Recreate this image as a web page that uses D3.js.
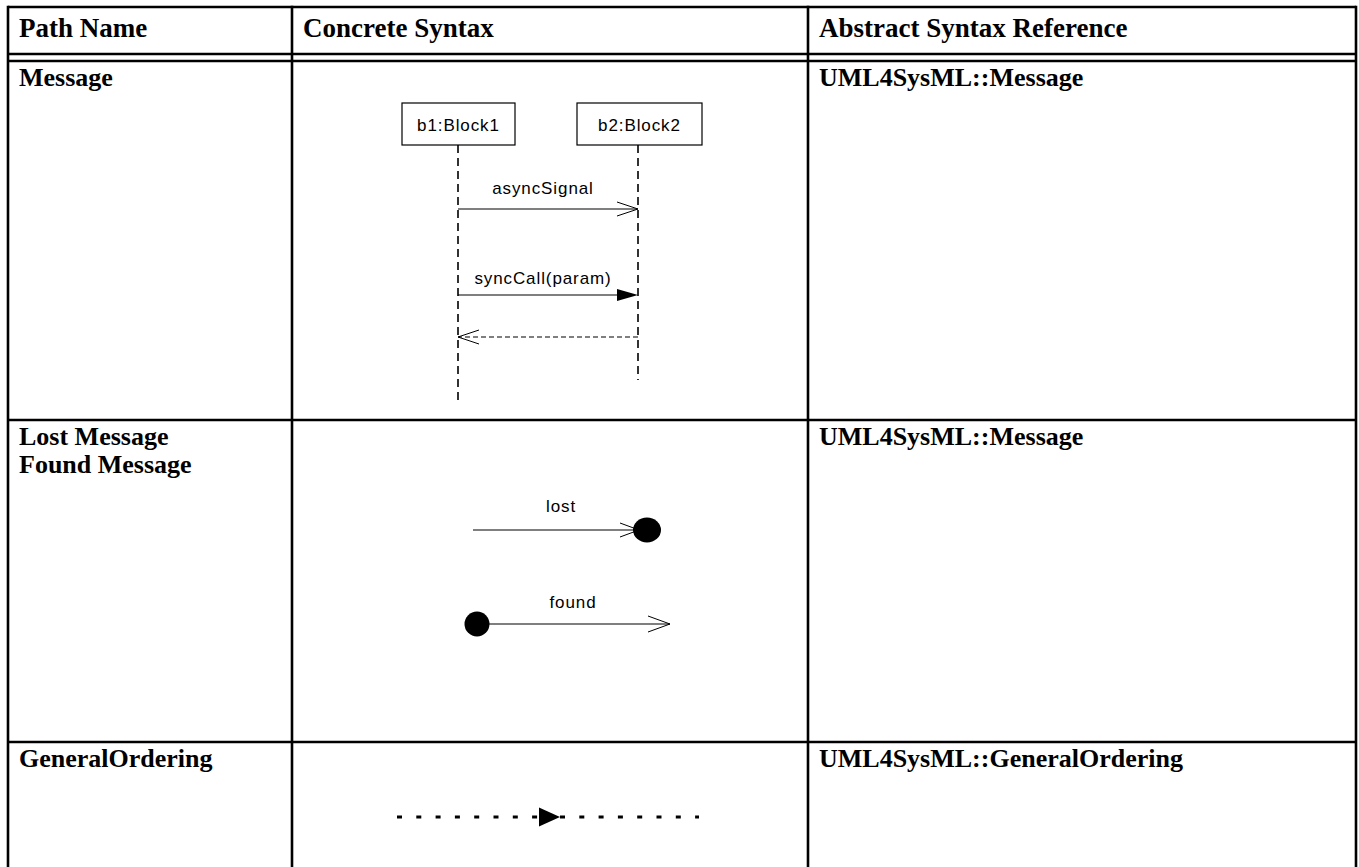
<!DOCTYPE html>
<html><head><meta charset="utf-8">
<script src="https://cdn.jsdelivr.net/npm/d3@7"></script>
<style>
html,body{margin:0;padding:0;background:#fff;}
svg{display:block;}
.serif{font-family:"Liberation Serif","Times New Roman",serif;font-weight:bold;font-size:26px;fill:#000;}
.serif.h{font-size:27px;}
.sans{font-family:"Liberation Sans",Arial,Helvetica,sans-serif;font-size:17px;letter-spacing:0.9px;fill:#000;}
</style></head><body>
<svg id="c" width="1359" height="867"></svg>
<script>
// ---- data ----
const columns = ["Path Name", "Concrete Syntax", "Abstract Syntax Reference"];
const pathNames = [["Message"], ["Lost Message", "Found Message"], ["GeneralOrdering"]];
const references = ["UML4SysML::Message", "UML4SysML::Message", "UML4SysML::GeneralOrdering"];
const lifelines = ["b1:Block1", "b2:Block2"];
const messageLabels = ["asyncSignal", "syncCall(param)", ""];
const messageKinds = ["async", "sync", "reply"];
const messageFrom = [0, 0, 1];
const messageTo = [1, 1, 0];
const lostFoundLabels = ["lost", "found"];
const lostFoundKinds = ["lost", "found"];

// ---- layout ----
const svg = d3.select("#c");
const colX = d3.scaleLinear().domain([0, 1, 2, 3]).range([8, 292, 808, 1356]);
const rowY = d3.scaleLinear().domain([0, 1, 2, 3, 4]).range([7, 61, 420, 742, 930]);
const g = svg.append("g");
const LW = 2.6;
const L = (x1, y1, x2, y2, w = LW) => g.append("line").attr("x1", x1).attr("y1", y1).attr("x2", x2).attr("y2", y2)
  .attr("stroke", "#000").attr("stroke-width", w);

// table grid
L(colX(0), rowY(0), colX(3), rowY(0));
L(colX(0), 54, colX(3), 54);
L(colX(0), rowY(1), colX(3), rowY(1));
[2, 3].forEach(r => L(colX(0), rowY(r), colX(3), rowY(r)));
[0, 1, 2, 3].forEach(c => L(colX(c), rowY(0) - LW / 2, colX(c), 872));

// header text
g.selectAll("text.h").data(columns).join("text").attr("class", "serif h")
  .attr("x", (d, i) => colX(i) + 11).attr("y", 37).text(d => d);

// path names
pathNames.forEach((names, r) => {
  g.selectAll(null).data(names).join("text").attr("class", "serif")
    .attr("x", colX(0) + 11).attr("y", (d, i) => rowY(r + 1) + 25 + i * 28).text(d => d);
});
g.selectAll("text.ref").data(references).join("text").attr("class", "serif ref")
  .attr("x", colX(2) + 11).attr("y", (d, i) => rowY(i + 1) + 25).text(d => d);

// ---- sequence diagram ----
const llX = d3.scalePoint().domain(lifelines).range([458, 638]);
const boxW = [113, 125];
const boxTop = 103, boxH = 42;
lifelines.forEach((name, i) => {
  const cx = llX(name);
  const bx = i === 0 ? 402 : 577;
  g.append("rect").attr("x", bx).attr("y", boxTop).attr("width", boxW[i]).attr("height", boxH)
    .attr("fill", "#fff").attr("stroke", "#000").attr("stroke-width", 1.2);
  g.append("text").attr("class", "sans").attr("x", bx + boxW[i] / 2).attr("y", boxTop + 28)
    .attr("text-anchor", "middle").text(name);
  g.append("line").attr("x1", cx).attr("y1", boxTop + boxH).attr("x2", cx).attr("y2", i === 0 ? 400 : 380)
    .attr("stroke", "#000").attr("stroke-width", 1.6).attr("stroke-dasharray", "8,5");
});
const msgY = d3.scaleLinear().domain([0, 1, 2]).range([209, 295, 337]);
const labelGap = [15, 11, 0];
messageLabels.forEach((lab, i) => {
  const x1 = llX(lifelines[messageFrom[i]]), x2 = llX(lifelines[messageTo[i]]);
  const y = msgY(i);
  const dir = Math.sign(x2 - x1);
  const kind = messageKinds[i];
  g.append("line").attr("x1", x1).attr("y1", y).attr("x2", kind === "sync" ? x2 - dir * 18 : x2).attr("y2", y)
    .attr("stroke", "#000").attr("stroke-width", 1.2)
    .attr("stroke-dasharray", kind === "reply" ? "5,3" : null);
  if (kind === "sync") {
    g.append("path").attr("d", `M${x2},${y} L${x2 - dir * 21},${y - 6} L${x2 - dir * 21},${y + 6} Z`).attr("fill", "#000");
  } else {
    g.append("path").attr("d", `M${x2 - dir * 21},${y - 7} L${x2},${y} L${x2 - dir * 21},${y + 7}`)
      .attr("fill", "none").attr("stroke", "#000").attr("stroke-width", 1);
  }
  if (lab) g.append("text").attr("class", "sans").attr("x", (x1 + x2) / 2 - 5).attr("y", y - labelGap[i])
    .attr("text-anchor", "middle").text(lab);
});

// ---- lost / found ----
const lfY = d3.scalePoint().domain(lostFoundKinds).range([530, 624]);
lostFoundKinds.forEach((k, i) => {
  const y = lfY(k);
  if (k === "lost") {
    g.append("line").attr("x1", 473).attr("y1", y).attr("x2", 640).attr("y2", y).attr("stroke", "#000").attr("stroke-width", 1.2);
    g.append("path").attr("d", `M620,${y - 7} L639,${y} L620,${y + 7}`).attr("fill", "none").attr("stroke", "#000").attr("stroke-width", 1);
    g.append("ellipse").attr("cx", 647).attr("cy", y).attr("rx", 14).attr("ry", 12.5).attr("fill", "#000");
    g.append("text").attr("class", "sans").attr("x", 561).attr("y", y - 18).attr("text-anchor", "middle")
      .attr("letter-spacing", "2px").text(lostFoundLabels[i]);
  } else {
    g.append("circle").attr("cx", 477).attr("cy", y).attr("r", 12.5).attr("fill", "#000");
    g.append("line").attr("x1", 477).attr("y1", y).attr("x2", 670).attr("y2", y).attr("stroke", "#000").attr("stroke-width", 1.2);
    g.append("path").attr("d", `M648,${y - 8} L670,${y} L648,${y + 8}`).attr("fill", "none").attr("stroke", "#000").attr("stroke-width", 1);
    g.append("text").attr("class", "sans").attr("x", 573).attr("y", y - 16).attr("text-anchor", "middle").text(lostFoundLabels[i]);
  }
});

// ---- general ordering ----
const goY = 817;
[[397, 545], [560, 699]].forEach(([a, b]) => {
  g.append("line").attr("x1", a).attr("y1", goY).attr("x2", b).attr("y2", goY)
    .attr("stroke", "#000").attr("stroke-width", 3).attr("stroke-dasharray", "5,14.3");
});
g.append("path").attr("d", `M539,${goY - 9.5} L560,${goY} L539,${goY + 9.5} Z`).attr("fill", "#000");
</script>
</body></html>
